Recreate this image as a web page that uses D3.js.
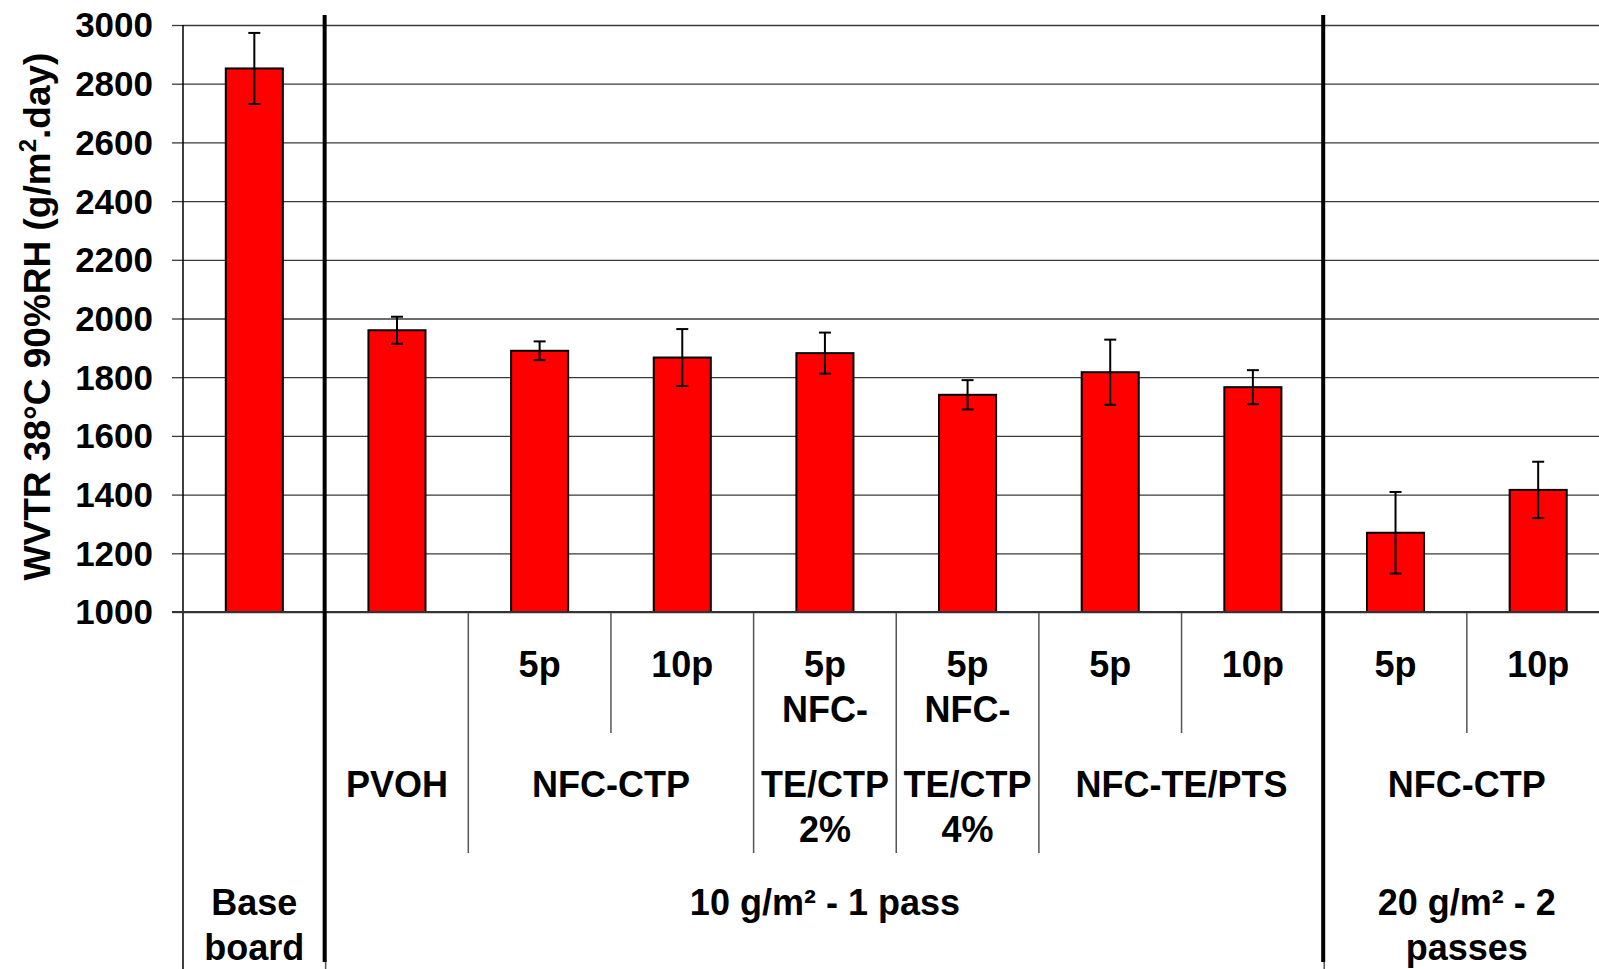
<!DOCTYPE html>
<html>
<head>
<meta charset="utf-8">
<script src="https://cdn.jsdelivr.net/npm/d3@7"></script>
<style>
  html, body { margin: 0; padding: 0; background: #fff; overflow: hidden; }
  text { font-family: "Liberation Sans", Arial, sans-serif; font-weight: bold; fill: #000; }
</style>
</head>
<body>
<div id="chart"></div>
<script>
// DATA
const level1 = [[], [], ["5p"], ["10p"], ["5p", "NFC-"], ["5p", "NFC-"], ["5p"], ["10p"], ["5p"], ["10p"]];
const values = [2852, 1960, 1890, 1867, 1882, 1740, 1817, 1766, 1270, 1416];
const errors = [121, 46, 32, 97, 70, 50, 111, 58, 139, 96];

// level 2 groups: label lines, first and last category index
const level2Labels = [["PVOH"], ["NFC-CTP"], ["TE/CTP", "2%"], ["TE/CTP", "4%"], ["NFC-TE/PTS"], ["NFC-CTP"]];
const level2Spans = [[1, 1], [2, 3], [4, 4], [5, 5], [6, 7], [8, 9]];

const level3Labels = [["Base", "board"], ["10 g/m² - 1 pass"], ["20 g/m² - 2", "passes"]];
const level3Spans = [[0, 0], [1, 7], [8, 9]];

const yTicks = [1000, 1200, 1400, 1600, 1800, 2000, 2200, 2400, 2600, 2800, 3000];

const width = 1599;
const height = 969;
const margin = {top: 25, left: 183, bottom: 612};
const band = 142.65;

const viz = d3.select("#chart")
    .append("svg")
    .attr("width", width)
    .attr("height", height);

// Scales
const xScale = d3.scaleBand()
    .domain(d3.range(values.length))
    .range([margin.left, margin.left + band * values.length])
    .paddingInner(0.6)
    .paddingOuter(0.3);

const yScale = d3.scaleLinear()
    .domain([1000, 3000])
    .range([margin.bottom, margin.top]);

function boundary(i) { return margin.left + band * i; }

// Gridlines
viz.append("g")
    .attr("transform", `translate(${margin.left},0)`)
    .call(d3.axisLeft(yScale).tickValues(yTicks).tickSize(-(width - margin.left)).tickFormat(""))
    .call(g => g.select(".domain").remove())
    .call(g => g.selectAll("line").attr("stroke", "#3a3a3a").attr("stroke-width", 1.3));

// Y axis
const yAxis = viz.append("g")
    .attr("transform", `translate(${margin.left},0)`)
    .call(d3.axisLeft(yScale).tickValues(yTicks).tickFormat(d3.format("d"))
        .tickSize(11).tickPadding(19).tickSizeOuter(0));

yAxis.select(".domain").remove();
yAxis.selectAll("line").attr("stroke", "#3a3a3a").attr("stroke-width", 1.3);
yAxis.selectAll("text")
    .attr("font-size", 35)
    .attr("dy", "0.34em")
    .attr("fill", "#000");

// left axis line down through the category area
viz.append("line")
    .attr("x1", margin.left).attr("x2", margin.left)
    .attr("y1", margin.top).attr("y2", height)
    .attr("stroke", "#000").attr("stroke-width", 1.5);

// Category separator lines
const catLines = [
    {i: 1, y2: height}, {i: 2, y2: 853}, {i: 3, y2: 733}, {i: 4, y2: 853},
    {i: 5, y2: 853}, {i: 6, y2: 853}, {i: 7, y2: 733}, {i: 8, y2: height}, {i: 9, y2: 733}
];
viz.selectAll(".catline")
    .data(catLines)
    .enter()
    .append("line")
    .attr("class", "catline")
    .attr("x1", d => boundary(d.i)).attr("x2", d => boundary(d.i))
    .attr("y1", margin.bottom).attr("y2", d => d.y2)
    .attr("stroke", "#555").attr("stroke-width", 1.5);

// Bars
viz.selectAll(".bar")
    .data(values)
    .enter()
    .append("rect")
    .attr("class", "bar")
    .attr("x", (d, i) => xScale(i))
    .attr("y", d => yScale(d))
    .attr("width", xScale.bandwidth())
    .attr("height", d => margin.bottom - yScale(d))
    .attr("fill", "#ff0000")
    .attr("stroke", "#000")
    .attr("stroke-width", 2);

// Error bars
const err = viz.selectAll(".err")
    .data(values)
    .enter()
    .append("g")
    .attr("class", "err")
    .attr("transform", (d, i) => `translate(${xScale(i) + xScale.bandwidth() / 2},0)`);

err.append("line")
    .attr("y1", (d, i) => yScale(d + errors[i]))
    .attr("y2", (d, i) => yScale(d - errors[i]))
    .attr("stroke", "#000").attr("stroke-width", 2);

err.append("line")
    .attr("x1", -6).attr("x2", 6)
    .attr("y1", (d, i) => yScale(d + errors[i]))
    .attr("y2", (d, i) => yScale(d + errors[i]))
    .attr("stroke", "#000").attr("stroke-width", 2);

err.append("line")
    .attr("x1", -6).attr("x2", 6)
    .attr("y1", (d, i) => yScale(d - errors[i]))
    .attr("y2", (d, i) => yScale(d - errors[i]))
    .attr("stroke", "#000").attr("stroke-width", 2);

// X axis line
viz.append("line")
    .attr("x1", 172).attr("x2", width)
    .attr("y1", margin.bottom).attr("y2", margin.bottom)
    .attr("stroke", "#333").attr("stroke-width", 2);

// Thick group dividers
viz.selectAll(".divider")
    .data([1, 8])
    .enter()
    .append("line")
    .attr("class", "divider")
    .attr("x1", d => boundary(d) - 1).attr("x2", d => boundary(d) - 1)
    .attr("y1", 15).attr("y2", 962)
    .attr("stroke", "#000").attr("stroke-width", 4);

// Multi-level category labels
function drawLabel(lines, cx, y0) {
    const t = viz.append("text")
        .attr("x", cx)
        .attr("y", y0)
        .attr("text-anchor", "middle")
        .attr("font-size", 36);
    lines.forEach((s, k) => {
        t.append("tspan").attr("x", cx).attr("y", y0 + k * 45).text(s);
    });
}

level1.forEach((lines, i) => drawLabel(lines, xScale(i) + xScale.bandwidth() / 2, 677));
level2Labels.forEach((lines, k) => {
    const s = level2Spans[k];
    drawLabel(lines, (boundary(s[0]) + boundary(s[1] + 1)) / 2, 797);
});
level3Labels.forEach((lines, k) => {
    const s = level3Spans[k];
    drawLabel(lines, (boundary(s[0]) + boundary(s[1] + 1)) / 2, 915);
});

// Y axis title
const title = viz.append("text")
    .attr("transform", `translate(50,${(margin.top + margin.bottom) / 2 - 2}) rotate(-90)`)
    .attr("text-anchor", "middle")
    .attr("font-size", 37);
title.append("tspan").text("WVTR 38°C 90%RH (g/m");
title.append("tspan").attr("font-size", 24).attr("dy", -14).text("2");
title.append("tspan").attr("dy", 14).text(".day)");
</script>
</body>
</html>
